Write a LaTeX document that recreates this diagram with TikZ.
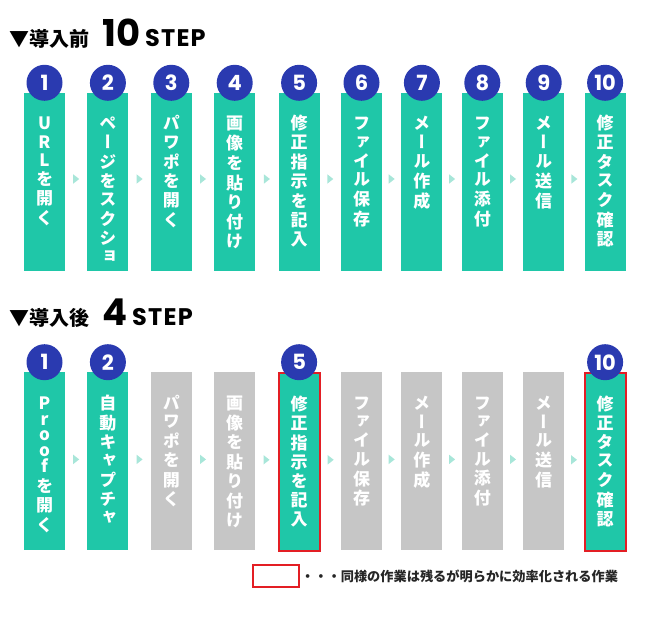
\documentclass[tikz,border=0pt]{standalone}
\usepackage{fontspec}
\newfontfamily\jpfont{Noto Sans CJK JP}
\newfontfamily\tatefont[RawFeature=+vert]{Noto Sans CJK JP}
\newfontfamily\numfont{Poppins}
\newfontfamily\stepfont[LetterSpace=5]{Poppins}
\usetikzlibrary{positioning, calc}

\definecolor{stepteal}{HTML}{1FC7A8}
\definecolor{stepnavy}{HTML}{2A3AB0}
\definecolor{stepgrey}{HTML}{C6C6C6}
\definecolor{steparrow}{HTML}{A8E6D9}
\definecolor{stepred}{HTML}{E31E24}

% one character per line, first line on the baseline
\newcommand\tate[1]{\begin{tabular}[t]{@{}c@{}}#1\end{tabular}}

\begin{document}
\begin{tikzpicture}[x=1pt, y=-1pt,
  stepbox/.style={
    fill=stepteal, inner sep=0pt, minimum width=41pt,
    text height=37pt, text depth=141pt, text=white,
    font=\tatefont\bfseries\fontsize{17}{18.1}\selectfont
  },
  skipbox/.style={stepbox, fill=stepgrey},
  keep/.style={draw=stepred, line width=2pt},
  num/.style={
    circle, fill=stepnavy, minimum size=36pt, inner sep=0pt,
    text=white, font=\numfont\bfseries\fontsize{21}{21}\selectfont
  },
  head/.style={anchor=base west, inner sep=0pt,
    font=\jpfont\bfseries\fontsize{20}{20}\selectfont},
  tri/.style={fill=steparrow}
]
  \useasboundingbox (0,0) rectangle (666,617);

  % before: 10 steps
  \node[head] (head1) at (9,47)
    {▼導入前\hspace{13pt}{\numfont\fontsize{37}{37}\selectfont 10}\hspace{5pt}{\stepfont\fontsize{24}{24}\selectfont STEP}};

  \node[stepbox] (s1) at (44.5,182) {\tate{U\\R\\L\\を\\開\\く}};
  \node[stepbox, right=22pt of s1] (s2) {\tate{ペ\\ー\\ジ\\を\\ス\\ク\\シ\\ョ}};
  \node[stepbox, right=22pt of s2] (s3) {\tate{パ\\ワ\\ポ\\を\\開\\く}};
  \node[stepbox, right=22pt of s3] (s4) {\tate{画\\像\\を\\貼\\り\\付\\け}};
  \node[stepbox, right=23pt of s4] (s5) {\tate{修\\正\\指\\示\\を\\記\\入}};
  \node[stepbox, right=21pt of s5] (s6) {\tate{フ\\ァ\\イ\\ル\\保\\存}};
  \node[stepbox, right=19pt of s6] (s7) {\tate{メ\\ー\\ル\\作\\成}};
  \node[stepbox, right=19pt of s7] (s8) {\tate{フ\\ァ\\イ\\ル\\添\\付}};
  \node[stepbox, right=20pt of s8] (s9) {\tate{メ\\ー\\ル\\送\\信}};
  \node[stepbox, right=20pt of s9] (s10) {\tate{修\\正\\タ\\ス\\ク\\確\\認}};

  \node[num] (n1) at ([yshift=10pt]s1.north) {1};
  \node[num] (n2) at ([yshift=10pt]s2.north) {2};
  \node[num] (n3) at ([yshift=10pt]s3.north) {3};
  \node[num] (n4) at ([yshift=10pt]s4.north) {4};
  \node[num] (n5) at ([yshift=10pt]s5.north) {5};
  \node[num] (n6) at ([yshift=10pt]s6.north) {6};
  \node[num] (n7) at ([yshift=10pt]s7.north) {7};
  \node[num] (n8) at ([yshift=10pt]s8.north) {8};
  \node[num] (n9) at ([yshift=10pt]s9.north) {9};
  \node[num] (n10) at ([yshift=10pt]s10.north) {10};

  % after: 4 steps
  \node[head] (head2) at (9,326)
    {▼導入後\hspace{13pt}{\numfont\fontsize{37}{37}\selectfont 4}\hspace{5pt}{\stepfont\fontsize{24}{24}\selectfont STEP}};

  \node[stepbox, below=101pt of s1] (t1) {\tate{P\\[-2.5pt]r\\[-2.5pt]o\\[-2.5pt]o\\[-2.5pt]f\\を\\開\\く}};
  \node[stepbox, below=101pt of s2] (t2) {\tate{自\\動\\キ\\ャ\\プ\\チ\\ャ}};
  \node[skipbox, below=101pt of s3] (t3) {\tate{パ\\ワ\\ポ\\を\\開\\く}};
  \node[skipbox, below=101pt of s4] (t4) {\tate{画\\像\\を\\貼\\り\\付\\け}};
  \node[stepbox, keep, below=101pt of s5] (t5) {\tate{修\\正\\指\\示\\を\\記\\入}};
  \node[skipbox, below=101pt of s6] (t6) {\tate{フ\\ァ\\イ\\ル\\保\\存}};
  \node[skipbox, below=101pt of s7] (t7) {\tate{メ\\ー\\ル\\作\\成}};
  \node[skipbox, below=101pt of s8] (t8) {\tate{フ\\ァ\\イ\\ル\\添\\付}};
  \node[skipbox, below=101pt of s9] (t9) {\tate{メ\\ー\\ル\\送\\信}};
  \node[stepbox, keep, below=101pt of s10] (t10) {\tate{修\\正\\タ\\ス\\ク\\確\\認}};

  \node[num] (m1) at ([yshift=10pt]t1.north) {1};
  \node[num] (m2) at ([yshift=10pt]t2.north) {2};
  \node[num] (m5) at ([yshift=10pt]t5.north) {5};
  \node[num] (m10) at ([yshift=10pt]t10.north) {10};

  % small arrow marks between the boxes
  \foreach \a/\b in {1/2,2/3,3/4,4/5,5/6,6/7,7/8,8/9,9/10} {
    \fill[tri] ($(s\a.east)!.5!(s\b.west)+(0,-3)$) +(-3,-4.7) -- +(3,0) -- +(-3,4.7) -- cycle;
    \fill[tri] ($(t\a.east)!.5!(t\b.west)+(0,-2)$) +(-3,-4.7) -- +(3,0) -- +(-3,4.7) -- cycle;
  }

  % legend
  \node[keep, minimum width=46pt, minimum height=22pt, inner sep=0pt] (key) at (276,576) {};
  \node[right=1pt of key, inner sep=0pt, text=black!85,
    font=\jpfont\bfseries\fontsize{13.2}{13.2}\selectfont] (keytext)
    {・・・同様の作業は残るが明らかに効率化される作業};

\end{tikzpicture}
\end{document}
